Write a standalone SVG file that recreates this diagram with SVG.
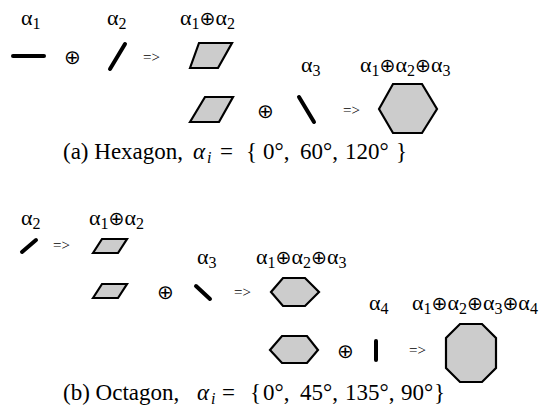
<svg xmlns="http://www.w3.org/2000/svg" width="549" height="406" viewBox="0 0 549 406">
<style>
.bg{fill:#ffffff}
.seg{stroke:#000;stroke-width:4;stroke-linecap:round;fill:none}
.poly{fill:#cccccc;stroke:#000;stroke-width:2.2;stroke-linejoin:miter}
.lbl{font-family:"Liberation Serif","Times New Roman",serif;font-size:22px;fill:#000}
.sub{font-size:16px}
.op{font-family:"DejaVu Sans",sans-serif;font-size:19px}
.opl{font-family:"DejaVu Sans",sans-serif;font-size:20px;fill:#000}
.arr{font-family:"Liberation Serif","Times New Roman",serif;font-size:15px;fill:#000}
.cap{font-family:"Liberation Serif","Times New Roman",serif;font-size:23px;fill:#000}
.it{font-style:italic}
</style>
<rect class="bg" x="0" y="0" width="549" height="406"/>

<!-- (a) hexagon -->
<g id="a-alpha1">
  <text class="lbl" x="21" y="25">α<tspan class="sub" dy="4">1</tspan></text>
  <line class="seg" x1="13" y1="56" x2="44" y2="56"/>
</g>
<g id="a-op1"><text class="opl" x="64" y="64">⊕</text></g>
<g id="a-alpha2">
  <text class="lbl" x="107" y="25">α<tspan class="sub" dy="4">2</tspan></text>
  <line class="seg" x1="110" y1="69" x2="125" y2="44"/>
</g>
<g id="a-arrow1"><text class="arr" x="143" y="62">=&gt;</text></g>
<g id="a-sum12">
  <text class="lbl" x="180" y="25">α<tspan class="sub" dy="4">1</tspan><tspan class="op" dy="-4">⊕</tspan>α<tspan class="sub" dy="4">2</tspan></text>
  <polygon class="poly" points="190,68 199,43 232,43 218,68"/>
</g>
<g id="a-sum12b">
  <polygon class="poly" points="190,122 205,97 233,97 219,122"/>
</g>
<g id="a-op2"><text class="opl" x="257" y="118">⊕</text></g>
<g id="a-alpha3">
  <text class="lbl" x="301" y="72">α<tspan class="sub" dy="4">3</tspan></text>
  <line class="seg" x1="299" y1="97" x2="314" y2="122"/>
</g>
<g id="a-arrow2"><text class="arr" x="343" y="115">=&gt;</text></g>
<g id="a-hexagon">
  <text class="lbl" x="360" y="72">α<tspan class="sub" dy="4">1</tspan><tspan class="op" dy="-4">⊕</tspan>α<tspan class="sub" dy="4">2</tspan><tspan class="op" dy="-4">⊕</tspan>α<tspan class="sub" dy="4">3</tspan></text>
  <polygon class="poly" points="379,109 393,84 422,84 437,109 422,133 393,133"/>
</g>
<g id="a-caption">
  <text class="cap" y="159"><tspan x="63">(a) Hexagon,</tspan><tspan class="it" x="193">α</tspan><tspan class="it sub" x="207" dy="4">i</tspan><tspan x="220" dy="-4">=</tspan><tspan x="246">{</tspan><tspan x="263">0°,</tspan><tspan x="300">60°,</tspan><tspan x="345">120°</tspan><tspan x="396">}</tspan></text>
</g>

<!-- (b) octagon -->
<g id="b-alpha2">
  <text class="lbl" x="21" y="225">α<tspan class="sub" dy="4">2</tspan></text>
  <line class="seg" x1="22" y1="252" x2="36" y2="240"/>
</g>
<g id="b-arrow1"><text class="arr" x="53" y="250">=&gt;</text></g>
<g id="b-sum12">
  <text class="lbl" x="89" y="225">α<tspan class="sub" dy="4">1</tspan><tspan class="op" dy="-4">⊕</tspan>α<tspan class="sub" dy="4">2</tspan></text>
  <polygon class="poly" points="93,253 102,239 127,239 118,253"/>
</g>
<g id="b-sum12b">
  <polygon class="poly" points="93,298 102,284 127,284 118,298"/>
</g>
<g id="b-op2"><text class="opl" x="157" y="299">⊕</text></g>
<g id="b-alpha3">
  <text class="lbl" x="197" y="264">α<tspan class="sub" dy="4">3</tspan></text>
  <line class="seg" x1="196" y1="286" x2="210" y2="299"/>
</g>
<g id="b-arrow2"><text class="arr" x="234" y="297">=&gt;</text></g>
<g id="b-hexagon">
  <text class="lbl" x="256" y="264">α<tspan class="sub" dy="4">1</tspan><tspan class="op" dy="-4">⊕</tspan>α<tspan class="sub" dy="4">2</tspan><tspan class="op" dy="-4">⊕</tspan>α<tspan class="sub" dy="4">3</tspan></text>
  <polygon class="poly" points="271,292 283,278 305,278 319,292 305,306 283,306"/>
</g>
<g id="b-hexagonb">
  <polygon class="poly" points="270,350 282,336 307,336 318,350 307,363 282,363"/>
</g>
<g id="b-op3"><text class="opl" x="337" y="358">⊕</text></g>
<g id="b-alpha4">
  <text class="lbl" x="369" y="310">α<tspan class="sub" dy="4">4</tspan></text>
  <line class="seg" x1="376" y1="341" x2="376" y2="360"/>
</g>
<g id="b-arrow3"><text class="arr" x="409" y="355">=&gt;</text></g>
<g id="b-octagon">
  <text class="lbl" x="412" y="310">α<tspan class="sub" dy="4">1</tspan><tspan class="op" dy="-4">⊕</tspan>α<tspan class="sub" dy="4">2</tspan><tspan class="op" dy="-4">⊕</tspan>α<tspan class="sub" dy="4">3</tspan><tspan class="op" dy="-4">⊕</tspan>α<tspan class="sub" dy="4">4</tspan></text>
  <polygon class="poly" points="460,324 482,324 496,338 496,368 482,382 460,382 446,368 446,338"/>
</g>
<g id="b-caption">
  <text class="cap" y="400"><tspan x="63">(b) Octagon,</tspan><tspan class="it" x="197">α</tspan><tspan class="it sub" x="211" dy="4">i</tspan><tspan x="222" dy="-4">=</tspan><tspan x="250">{</tspan><tspan x="263">0°,</tspan><tspan x="300">45°,</tspan><tspan x="345">135°,</tspan><tspan x="401">90°</tspan><tspan x="434">}</tspan></text>
</g>
</svg>
